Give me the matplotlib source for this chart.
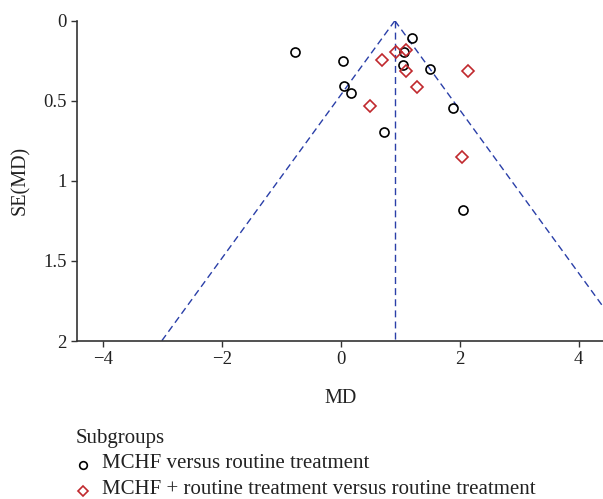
import matplotlib
matplotlib.use("Agg")
import matplotlib.pyplot as plt
import numpy as np
from matplotlib.lines import Line2D

plt.rcParams['font.family'] = ['Liberation Serif', 'DejaVu Serif']

# Subgroup 1: MCHF versus routine treatment
md1 = [-0.77, 0.04, 0.05, 0.18, 0.73, 1.20, 1.06, 1.05, 1.50, 1.89, 2.05]
se1 = [0.198, 0.252, 0.406, 0.454, 0.698, 0.106, 0.198, 0.275, 0.304, 0.544, 1.185]
# Subgroup 2: MCHF + routine treatment versus routine treatment
md2 = [0.70, 0.93, 1.10, 1.10, 1.29, 0.49, 2.14, 2.04]
se2 = [0.246, 0.198, 0.183, 0.3125, 0.4125, 0.533, 0.3125, 0.85]

pooled_md = 0.91
se_max = 2.0
xticks = [-4, -2, 0, 2, 4]
xticklabels = ['\u22124', '\u22122', '0', '2', '4']
yticks = [0, 0.5, 1, 1.5, 2]
yticklabels = ['0', '0.5', '1', '1.5', '2']
legend_title = 'Subgroups'
legend_labels = ['MCHF versus routine treatment',
                 'MCHF + routine treatment versus routine treatment']

fig = plt.figure(figsize=(6.03, 4.99), dpi=100)
ax = fig.add_axes([0.1282, 0.3166, 0.8718, 0.6419])

blue = '#2a3fa8'
red = '#c0282d'
dash = (0, (5, 3))
se_line = np.array([0, se_max])
ax.plot([pooled_md, pooled_md], [0, se_max], ls=dash, color=blue, lw=1, clip_on=True)
ax.plot(pooled_md - 1.96 * se_line, se_line, ls=dash, color=blue, lw=1)
ax.plot(pooled_md + 1.96 * se_line, se_line, ls=dash, color=blue, lw=1)

ax.plot(md1, se1, 'o', mfc='none', mec='black', ms=6.5, mew=1.2, ls='none')
ax.plot(md2, se2, 'D', mfc='none', mec=red, ms=6.3, mew=1.2, ls='none')

ax.set_xlim(-4.427, 4.408)
ax.set_ylim(2, 0)
ax.set_xticks(xticks)
ax.set_xticklabels(xticklabels)
ax.set_yticks(yticks)
ax.set_yticklabels(yticklabels)
for s in ['top', 'right']:
    ax.spines[s].set_visible(False)
for s in ['left', 'bottom']:
    ax.spines[s].set_color('#333333')
    ax.spines[s].set_linewidth(1.2)
ax.tick_params(direction='out', length=4.5, width=1.0, color='#333333',
               labelsize=13.5, labelcolor='#222222', pad=3)
ax.set_xlabel('MD', fontsize=14.5, color='#222222')
ax.xaxis.set_label_coords(0.501, -0.178)
ax.xaxis.label.set_va('center')
ax.set_ylabel('SE(MD)', fontsize=14.5, color='#222222')
ax.yaxis.set_label_coords(-0.109, 0.5)
ax.yaxis.label.set_va('center')

fig.text(0.126, 0.1222, legend_title, fontsize=15, va='center', ha='left', color='#222222')
fig.lines.append(Line2D([0.137], [0.069], marker='o', mfc='none', mec='black', ms=5.5, mew=1.2,
                        transform=fig.transFigure))
fig.lines.append(Line2D([0.137], [0.017], marker='D', mfc='none', mec=red, ms=5.5, mew=1.2,
                        transform=fig.transFigure))
fig.text(0.1687, 0.072, legend_labels[0], fontsize=15, va='center', ha='left', color='#222222')
fig.text(0.1687, 0.020, legend_labels[1], fontsize=15, va='center', ha='left', color='#222222')

fig.savefig('out.png', dpi=100)
